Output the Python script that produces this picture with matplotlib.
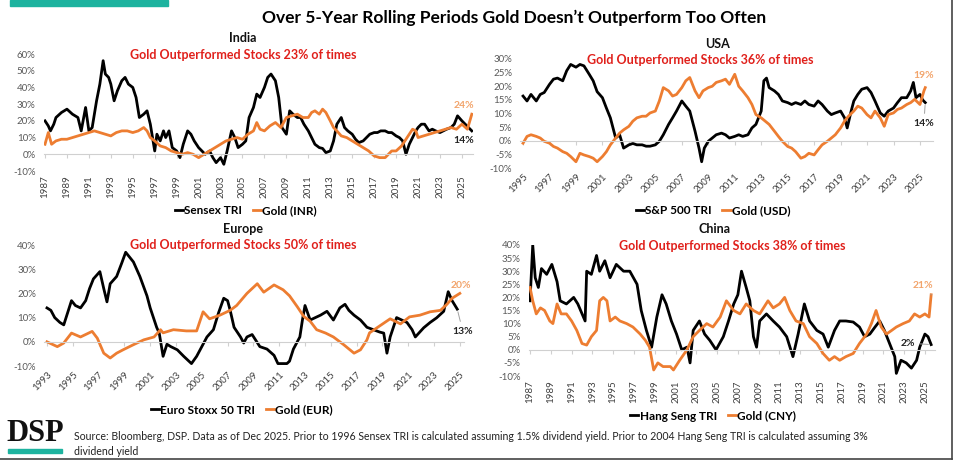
import matplotlib
matplotlib.use("Agg")
import matplotlib.pyplot as plt
from matplotlib.lines import Line2D
from matplotlib.ticker import FuncFormatter

plt.rcParams['font.family'] = ['Lato', 'DejaVu Sans']

# ---------------- data ----------------
# India: Sensex TRI vs Gold (INR), 5y rolling returns %
india_stock_years = [1987.0, 1987.3, 1987.5, 1987.8, 1988.0, 1988.5, 1989.0, 1989.5, 1990.0, 1990.3, 1990.7,
                     1991.0, 1991.3, 1991.7, 1992.0, 1992.3, 1992.5, 1992.8, 1993.0, 1993.3, 1993.6, 1994.0,
                     1994.3, 1994.6, 1995.0, 1995.3, 1995.6, 1996.0, 1996.3, 1996.6, 1997.0, 1997.2, 1997.5,
                     1997.8, 1998.0, 1998.3, 1998.6, 1999.0, 1999.3, 1999.6, 2000.0, 2000.3, 2000.6, 2001.0,
                     2001.3, 2001.6, 2002.0, 2002.3, 2002.6, 2003.0, 2003.3, 2003.6, 2004.0, 2004.3, 2004.6,
                     2005.0, 2005.3, 2005.6, 2006.0, 2006.3, 2006.6, 2007.0, 2007.3, 2007.6, 2008.0, 2008.3,
                     2008.6, 2009.0, 2009.3, 2009.6, 2010.0, 2010.3, 2010.6, 2011.0, 2011.3, 2011.6, 2012.0,
                     2012.3, 2012.6, 2013.0, 2013.3, 2013.6, 2014.0, 2014.3, 2014.6, 2015.0, 2015.3, 2015.6,
                     2016.0, 2016.3, 2016.6, 2017.0, 2017.3, 2017.6, 2018.0, 2018.3, 2018.6, 2019.0, 2019.3,
                     2019.6, 2019.9, 2020.2, 2020.5, 2020.8, 2021.0, 2021.3, 2021.6, 2022.0, 2022.3, 2022.6,
                     2023.0, 2023.3, 2023.6, 2024.0, 2024.3, 2024.6, 2025.0, 2025.3, 2025.6, 2025.9]
india_stock = [20, 17, 14, 18, 22, 25, 27, 24, 22, 14, 28,
               14, 16, 32, 42, 56, 48, 46, 42, 32, 38, 44,
               46, 42, 40, 34, 22, 24, 26, 18, 2, 12, 8,
               14, 10, 14, 4, 2, -2, 6, 14, 12, 8, 4,
               2, 0, 2, -2, -5, -2, -6, 2, 14, 10, 4,
               6, 8, 22, 28, 36, 34, 40, 46, 48, 44, 34,
               16, 12, 26, 24, 22, 22, 18, 14, 10, 6, 4,
               3.5, 1, 2, 8, 18, 22, 16, 14, 12, 9, 7,
               8, 10, 12, 13, 13, 14, 14, 13, 13, 11, 10,
               8, 0, 6, 10, 14, 16, 18, 18, 14, 15, 14,
               13, 14, 15, 16, 18, 23, 20, 18, 16, 14]
india_gold_years = [1987.0, 1987.3, 1987.6, 1988.0, 1988.5, 1989.0, 1989.5, 1990.0, 1990.5, 1991.0, 1991.5,
                    1992.0, 1992.5, 1993.0, 1993.5, 1994.0, 1994.5, 1995.0, 1995.5, 1996.0, 1996.3, 1996.6,
                    1997.0, 1997.5, 1998.0, 1998.5, 1999.0, 1999.5, 2000.0, 2000.5, 2001.0, 2001.5, 2002.0,
                    2002.5, 2003.0, 2003.5, 2004.0, 2004.5, 2005.0, 2005.5, 2006.0, 2006.3, 2006.6, 2007.0,
                    2007.5, 2008.0, 2008.5, 2009.0, 2009.5, 2010.0, 2010.5, 2011.0, 2011.3, 2011.6, 2012.0,
                    2012.3, 2012.6, 2013.0, 2013.3, 2013.6, 2014.0, 2014.5, 2015.0, 2015.5, 2016.0, 2016.5,
                    2017.0, 2017.5, 2018.0, 2018.3, 2018.6, 2019.0, 2019.5, 2020.0, 2020.5, 2020.8, 2021.0,
                    2021.5, 2022.0, 2022.5, 2023.0, 2023.5, 2024.0, 2024.5, 2025.0, 2025.5, 2025.9]
india_gold = [6, 13, 6, 8, 9, 9, 10, 11, 12, 13, 14,
              13, 12, 11, 13, 14, 14, 13, 14, 16, 14, 10,
              8, 5, 4, 2, 1, 0, 1, 0, -2, 0, 2,
              4, 6, 8, 9, 10, 9, 12, 14, 19, 15, 14,
              17, 19, 16, 22, 23, 24, 22, 22, 25, 26, 24,
              27, 25, 20, 16, 14, 11, 10, 8, 6, 4, 2,
              -1, -2, -2, 0, 2, 2, 5, 10, 15, 14, 10,
              11, 12, 13, 14, 15, 16, 15, 18, 15, 24]

# USA: S&P 500 TRI vs Gold (USD)
usa_stock_years = [1995.0, 1995.3, 1995.6, 1996.0, 1996.3, 1996.6, 1997.0, 1997.3, 1997.6, 1998.0, 1998.3,
                   1998.6, 1999.0, 1999.3, 1999.6, 2000.0, 2000.3, 2000.6, 2001.0, 2001.3, 2001.6, 2002.0,
                   2002.3, 2002.6, 2003.0, 2003.3, 2003.6, 2004.0, 2004.3, 2004.6, 2005.0, 2005.3, 2005.6,
                   2006.0, 2006.3, 2006.6, 2007.0, 2007.3, 2007.6, 2008.0, 2008.3, 2008.5, 2008.7, 2009.0,
                   2009.3, 2009.6, 2010.0, 2010.3, 2010.6, 2011.0, 2011.3, 2011.6, 2012.0, 2012.3, 2012.6,
                   2013.0, 2013.2, 2013.4, 2013.6, 2014.0, 2014.3, 2014.6, 2015.0, 2015.3, 2015.6, 2016.0,
                   2016.3, 2016.6, 2017.0, 2017.3, 2017.6, 2018.0, 2018.3, 2018.6, 2019.0, 2019.3, 2019.5,
                   2019.8, 2020.0, 2020.3, 2020.6, 2021.0, 2021.3, 2021.6, 2022.0, 2022.3, 2022.6, 2023.0,
                   2023.3, 2023.6, 2024.0, 2024.3, 2024.5, 2024.7, 2025.0, 2025.2, 2025.4]
usa_stock = [16.4, 14.6, 17, 14.6, 17, 17.7, 20.7, 22.6, 23, 22, 25.7,
             28, 27, 28, 27.5, 24.4, 22, 18, 15.8, 12, 8.4, 1,
             2.2, -2.7, -1.5, -1, -1.5, -1.5, -2, -2, -1.5, -0.2, 2.2,
             6, 8.4, 10.9, 14.6, 12.7, 10.9, 3.5, -2.7, -7.7, -2.7, -0.2,
             1, 2.2, 2.8, 2.2, 1, 1.6, 2.2, 1.6, 2.2, 4.7, 6,
             10.9, 22, 23, 19.5, 18.3, 17, 14.6, 14, 13.3, 14, 13.3,
             14.6, 13.3, 12.7, 14.6, 13.3, 10.9, 9.6, 10.2, 10.9, 8.4, 4.7,
             10.9, 14.6, 17, 18.9, 19.5, 17.7, 14.6, 10.2, 9, 10.9, 12,
             14, 15.8, 15.8, 18.3, 21.4, 15.8, 17, 15, 14]
usa_gold_years = [1995.0, 1995.3, 1995.6, 1996.0, 1996.3, 1996.6, 1997.0, 1997.3, 1997.6, 1998.0, 1998.3,
                  1998.6, 1999.0, 1999.3, 1999.6, 2000.0, 2000.3, 2000.6, 2001.0, 2001.3, 2001.6, 2002.0,
                  2002.3, 2002.6, 2003.0, 2003.3, 2003.6, 2004.0, 2004.3, 2004.6, 2005.0, 2005.3, 2005.6,
                  2006.0, 2006.3, 2006.6, 2007.0, 2007.3, 2007.6, 2008.0, 2008.3, 2008.6, 2009.0, 2009.3,
                  2009.6, 2010.0, 2010.3, 2010.6, 2011.0, 2011.3, 2011.6, 2012.0, 2012.3, 2012.6, 2013.0,
                  2013.3, 2013.6, 2014.0, 2014.3, 2014.6, 2015.0, 2015.3, 2015.6, 2016.0, 2016.3, 2016.6,
                  2017.0, 2017.3, 2017.6, 2018.0, 2018.3, 2018.6, 2019.0, 2019.3, 2019.6, 2020.0, 2020.3,
                  2020.6, 2021.0, 2021.3, 2021.6, 2022.0, 2022.3, 2022.6, 2023.0, 2023.3, 2023.6, 2024.0,
                  2024.3, 2024.6, 2025.0, 2025.3, 2025.4]
usa_gold = [-0.9, 1.6, 2.2, 1.6, 1, -0.2, -0.9, -2.1, -2.7, -4, -4.6,
            -5.8, -7.7, -4.6, -5.2, -5.8, -6.4, -7.7, -5.8, -4, -1.5, 1,
            2.8, 4, 5.3, 7.2, 8.4, 9, 9, 10.2, 10.9, 14.6, 19.5,
            18.3, 16.4, 17, 19.5, 22, 23.2, 18.3, 15.8, 18.3, 19.5, 20,
            21.4, 22, 22.6, 20.7, 24.4, 20, 18.3, 15.8, 13.3, 9.6, 8.4,
            7.2, 6, 3.5, 1.6, -0.2, -2.1, -2.7, -4, -6.4, -5.8, -4.6,
            -5.2, -3.3, -1.5, -0.2, 1, 2.2, 4.7, 7.2, 9, 10.9, 12.7,
            12, 9.6, 8.4, 10.9, 8.4, 5.3, 9.6, 10.2, 11.5, 12, 13.3,
            14, 15.2, 13.3, 18.3, 19.5]

# Europe: Euro Stoxx 50 TRI vs Gold (EUR)
europe_stock_years = [1993.0, 1993.3, 1993.6, 1994.0, 1994.3, 1994.6, 1994.9, 1995.2, 1995.6, 1996.0, 1996.3,
                      1996.6, 1997.1, 1997.4, 1997.65, 1997.9, 1998.4, 1998.8, 1999.1, 1999.4, 1999.7, 2000.2,
                      2000.75, 2001.0, 2001.5, 2001.7, 2002.0, 2002.3, 2002.6, 2003.1, 2003.6, 2004.2, 2004.6,
                      2005.0, 2005.4, 2005.9, 2006.3, 2006.7, 2007.0, 2007.2, 2007.5, 2008.0, 2008.25, 2008.5,
                      2008.9, 2009.5, 2010.05, 2010.6, 2010.9, 2011.6, 2011.8, 2012.1, 2012.6, 2012.8, 2013.0,
                      2013.4, 2013.8, 2014.2, 2014.7, 2015.2, 2015.7, 2016.1, 2016.4, 2016.8, 2017.3, 2017.8,
                      2018.3, 2018.8, 2019.1, 2019.35, 2019.6, 2020.1, 2020.5, 2020.9, 2021.3, 2021.55, 2022.2,
                      2022.7, 2023.2, 2023.75, 2024.1, 2024.4, 2024.8]
europe_stock = [14, 13, 10, 8, 7, 12, 17, 15, 14, 17, 22,
                26, 29, 22, 16.5, 24, 27, 32.6, 37, 35, 33, 27,
                19, 14, 6, 3.6, -6, -1, -2, -3.3, -6, -9, -6,
                -2, 2, 5, 12, 18, 17, 13, 6, 2, -0.5, 2,
                3, -2, -3, -5.6, -9, -9, -8, -3, 2, 9, 15,
                9, 10, 11, 12.6, 9, 14, 15.5, 13, 11, 9, 6,
                5, 4, 3.6, -4.7, 2, 10, 9, 8, 5, 2, 5.8,
                8, 9.9, 12.6, 20.7, 17, 13.5]
europe_gold_years = [1993.0, 1993.8, 1994.3, 1994.9, 1995.6, 1996.5, 1996.9, 1997.4, 1997.9, 1998.4, 1998.9,
                     1999.7, 2000.5, 2001.3, 2001.8, 2002.0, 2002.8, 2003.8, 2004.6, 2005.1, 2005.6, 2006.4,
                     2007.2, 2007.7, 2008.5, 2009.3, 2009.8, 2010.6, 2011.3, 2011.8, 2012.4, 2012.9, 2013.4,
                     2013.9, 2014.6, 2015.2, 2016.0, 2016.8, 2017.3, 2017.8, 2018.0, 2018.8, 2019.6, 2020.4,
                     2021.1, 2021.9, 2022.7, 2023.5, 2024.0, 2024.4, 2025.0]
europe_gold = [0, -2, -0.5, 3.6, 2, 4.3, 1.5, -4.7, -6.7, -4.7, -3.3,
               -1.2, 0.8, 2, 5, 3.7, 5, 4.5, 4.5, 12.4, 9.5, 11,
               13, 15, 20, 24, 20.5, 23.5, 21.5, 19, 14.5, 10.5, 8.5,
               5, 3.6, 2, -1.2, -4.7, -3.3, 0.8, 3.7, 6.6, 9.5, 7.4,
               10.3, 11, 12.4, 13, 15.5, 18, 20]

# China: Hang Seng TRI vs Gold (CNY)
china_stock_years = [1987.0, 1987.26, 1987.5, 1987.8, 1988.1, 1988.6, 1989.1, 1989.6, 1989.9, 1990.5, 1991.2,
                     1991.6, 1992.3, 1992.45, 1992.9, 1993.4, 1993.7, 1994.2, 1994.7, 1995.3, 1996.0, 1996.6,
                     1997.3, 1997.7, 1998.2, 1998.7, 1999.2, 1999.7, 2000.1, 2000.6, 2001.1, 2001.6, 2002.1,
                     2002.4, 2002.7, 2003.3, 2003.8, 2004.3, 2004.9, 2005.6, 2006.1, 2006.6, 2007.0, 2007.35,
                     2007.8, 2008.15, 2008.5, 2008.8, 2009.1, 2009.75, 2010.4, 2011.0, 2011.7, 2012.3, 2012.8,
                     2013.4, 2013.9, 2014.6, 2015.2, 2015.7, 2016.3, 2016.8, 2017.4, 2018.1, 2018.7, 2019.2,
                     2019.7, 2020.2, 2020.65, 2021.1, 2021.6, 2022.1, 2022.25, 2022.7, 2023.2, 2023.7, 2024.2,
                     2024.5, 2025.0, 2025.3, 2025.6]
china_stock = [18.7, 40, 27.5, 23.8, 31, 28.8, 32.6, 26, 18.7, 17.5, 20,
               17.5, 11, 30, 28.8, 36, 30, 34, 27.5, 32.6, 30, 30,
               25, 15, 7.4, 1, 12.5, 21, 17.5, 11, 6, 0, 1,
               -5, 7.4, 11, 6, 3.6, 0, 5, 11, 17.5, 21, 30,
               23.8, 18.7, 5, 1, 11, 13.7, 11, 8.7, 5, -2.6, 6,
               17.5, 11, 7.4, 6, 1, 7.4, 11, 11, 10.6, 8.7, 5,
               6, 8.7, 11, 7.4, 2.4, -2.6, -9, -4, -5, -7, -4,
               1, 6, 5, 2]
china_gold_years = [1987.0, 1987.26, 1987.6, 1988.0, 1988.4, 1988.9, 1989.2, 1989.6, 1990.0, 1990.5, 1991.0,
                    1991.5, 1992.0, 1992.45, 1992.9, 1993.4, 1993.7, 1994.05, 1994.4, 1994.7, 1995.2, 1995.65,
                    1996.3, 1996.9, 1997.6, 1998.1, 1998.5, 1998.9, 1999.3, 1999.8, 2000.5, 2000.8, 2001.4,
                    2002.1, 2002.7, 2003.3, 2004.0, 2004.6, 2005.3, 2005.9, 2006.6, 2007.2, 2007.8, 2008.5,
                    2009.1, 2009.9, 2010.4, 2011.0, 2011.5, 2012.0, 2012.6, 2013.3, 2013.9, 2014.6, 2015.2,
                    2015.8, 2016.3, 2016.8, 2017.4, 2018.1, 2018.7, 2019.4, 2019.85, 2020.3, 2020.8, 2021.3,
                    2021.8, 2022.25, 2022.9, 2023.5, 2024.0, 2024.5, 2025.0, 2025.4, 2025.6]
china_gold = [23.8, 18.7, 13.7, 16, 15, 11, 10, 17.5, 13.7, 13.7, 11,
              7.4, 2.4, 1.8, 5, 7.4, 18.7, 20, 18.7, 11, 12.5, 11,
              10, 8.7, 6, 3.6, 1, -7.7, -5, -6.4, -6.4, -7.7, -4,
              0, 5, 7.4, 10, 8.7, 12.5, 18.7, 15, 13.7, 17.5, 15,
              13.7, 18.7, 16, 17.5, 20, 15, 11, 10, 5, 2.4, -1.4,
              -4, -2.6, -4, -2.6, -1.4, 2.4, 6, 10, 15, 8.7, 6,
              7.4, 8.7, 10, 11, 13.7, 12.5, 13.7, 12.5, 21]

titles = ["India", "USA", "Europe", "China"]
outperf = [23, 36, 50, 38]
stock_names = ["Sensex TRI", "S&P 500 TRI", "Euro Stoxx 50 TRI", "Hang Seng TRI"]
gold_names = ["Gold (INR)", "Gold (USD)", "Gold (EUR)", "Gold (CNY)"]
gold_end_labels = ["24%", "19%", "20%", "21%"]
stock_end_labels = ["14%", "14%", "13%", "2%"]

# ---------------- styling ----------------
W, H = 958, 461
ORANGE = "#ED7D31"
LABEL_ORANGE = "#F2A46B"
RED = "#E0201B"
TEAL = "#1DB39F"
GREY = "#595959"

fig = plt.figure(figsize=(W / 100, H / 100), dpi=100)


def rect(left, top, right, bottom):
    return [left / W, 1 - bottom / H, (right - left) / W, (bottom - top) / H]


def fx(px):
    return px / W


def fy(py):
    return 1 - py / H


def panel(r, xlim, ylim, ystep, xticks, rot, sy, sv, gy, gv, i,
          title_xy, sub_xy, leg_xy, g_off, s_off, s_leader, g_leader):
    ax = fig.add_axes(r)
    ax.plot(sy, sv, color="black", lw=2.0, solid_joinstyle="round")
    ax.plot(gy, gv, color=ORANGE, lw=2.0, solid_joinstyle="round")
    ax.set_xlim(*xlim)
    ax.set_ylim(*ylim)
    ax.set_yticks(range(ylim[0], ylim[1] + 1, ystep))
    ax.yaxis.set_major_formatter(FuncFormatter(lambda v, p: f"{v:.0f}%"))
    ax.tick_params(axis="y", length=0, labelsize=7, labelcolor=GREY, pad=6)
    for s in ["top", "right", "left"]:
        ax.spines[s].set_visible(False)
    ax.spines["bottom"].set_position(("data", 0))
    ax.spines["bottom"].set_color("#D0D0D0")
    ax.spines["bottom"].set_linewidth(0.8)
    ax.set_xticks(xticks)
    ax.tick_params(axis="x", length=3, color="#D0D0D0", labelbottom=False, direction="out")
    sec = ax.secondary_xaxis("bottom")
    sec.set_xticks(xticks)
    sec.set_xticklabels([str(t) for t in xticks])
    sec.spines["bottom"].set_visible(False)
    sec.tick_params(length=0, labelsize=7, labelcolor="#404040", pad=3)
    if rot == 90:
        for lab in sec.get_xticklabels():
            lab.set_rotation(90)
            lab.set_va("top")
            lab.set_ha("center")
    else:
        for lab in sec.get_xticklabels():
            lab.set_rotation(45)
            lab.set_ha("right")
            lab.set_rotation_mode("anchor")

    fig.text(fx(title_xy[0]), fy(title_xy[1]), titles[i], ha="center", va="center",
             fontsize=9, fontweight="bold", color="#111111")
    fig.text(fx(sub_xy[0]), fy(sub_xy[1]), f"Gold Outperformed Stocks {outperf[i]}% of times",
             ha="center", va="center", fontsize=9, fontweight="bold", color=RED)

    handles = [Line2D([], [], color="black", lw=2), Line2D([], [], color=ORANGE, lw=2)]
    ax.legend(handles, [stock_names[i], gold_names[i]], loc="center",
              bbox_to_anchor=(fx(leg_xy[0]), fy(leg_xy[1])), bbox_transform=fig.transFigure,
              ncol=2, frameon=False, handlelength=0.7, handletextpad=0.1, columnspacing=0.9,
              prop={"weight": "bold", "size": 8.5})

    lead = dict(arrowstyle="-", color="#A0A0A0", lw=0.7)
    ax.annotate(gold_end_labels[i], xy=(gy[-1], gv[-1]), xytext=g_off, textcoords="offset points",
                ha="center", va="center", fontsize=7.5, color=LABEL_ORANGE, fontweight="bold",
                annotation_clip=False, arrowprops=lead if g_leader else None)
    ax.annotate(stock_end_labels[i], xy=(sy[-1], sv[-1]), xytext=s_off, textcoords="offset points",
                ha="center", va="center", fontsize=7.5, color="#222222", fontweight="bold",
                annotation_clip=False, arrowprops=lead if s_leader else None)
    return ax


panel(rect(43.9, 54, 472.9, 171), (1986.9, 2026.0), (-10, 60), 10, list(range(1987, 2026, 2)), 90,
      india_stock_years, india_stock, india_gold_years, india_gold, 0,
      (243, 38), (243, 55), (246, 211), (-6, 6), (-6, -7), False, False)
panel(rect(520.4, 59, 933.2, 168), (1994.8, 2026.0), (-10, 30), 5, list(range(1995, 2026, 2)), 45,
      usa_stock_years, usa_stock, usa_gold_years, usa_gold, 1,
      (717, 44), (700, 60), (713, 211), (-1, 9), (-1, -15), True, False)
panel(rect(44.4, 245, 463.7, 366), (1992.8, 2025.3), (-10, 40), 10, list(range(1993, 2026, 2)), 45,
      europe_stock_years, europe_stock, europe_gold_years, europe_gold, 2,
      (243, 229), (243, 245), (242, 410), (1, 6), (4, -16), True, False)
panel(rect(529.0, 245, 935.3, 376), (1986.9, 2026.0), (-10, 40), 5, list(range(1987, 2026, 2)), 90,
      china_stock_years, china_stock, china_gold_years, china_gold, 3,
      (715, 229), (732, 246), (713, 416), (-6, 7), (-17, 1), True, True)

# header and footer
fig.patches.append(plt.Rectangle((fx(10), fy(6)), fx(158), 6 / H, transform=fig.transFigure,
                                 color=TEAL, zorder=5))
fig.text(fx(514), fy(18), "Over 5-Year Rolling Periods Gold Doesn\u2019t Outperform Too Often",
         ha="center", va="center", fontsize=12.5, fontweight="bold", color="black")
fig.text(fx(6), fy(433), "DSP", ha="left", va="center", fontsize=22, fontweight="bold",
         family=["Liberation Serif", "DejaVu Serif"], color="#111111")
fig.patches.append(plt.Rectangle((fx(8), fy(453)), fx(54), 4 / H, transform=fig.transFigure,
                                 color=TEAL, zorder=5))
footer = ("Source: Bloomberg, DSP. Data as of Dec 2025. Prior to 1996 Sensex TRI is calculated assuming "
          "1.5% dividend yield. Prior to 2004 Hang Seng TRI is calculated assuming 3%\ndividend yield")
fig.text(fx(74), fy(444), footer, ha="left", va="center", fontsize=7.6, linespacing=1.35,
         color="#222222")

# screenshot frame edges
fig.add_artist(Line2D([fx(952), fx(952)], [fy(0), fy(459)], color="#444444", lw=1.2))
fig.add_artist(Line2D([0, fx(952)], [fy(459), fy(459)], color="#444444", lw=1.2))

fig.savefig("out.png", dpi=100)
